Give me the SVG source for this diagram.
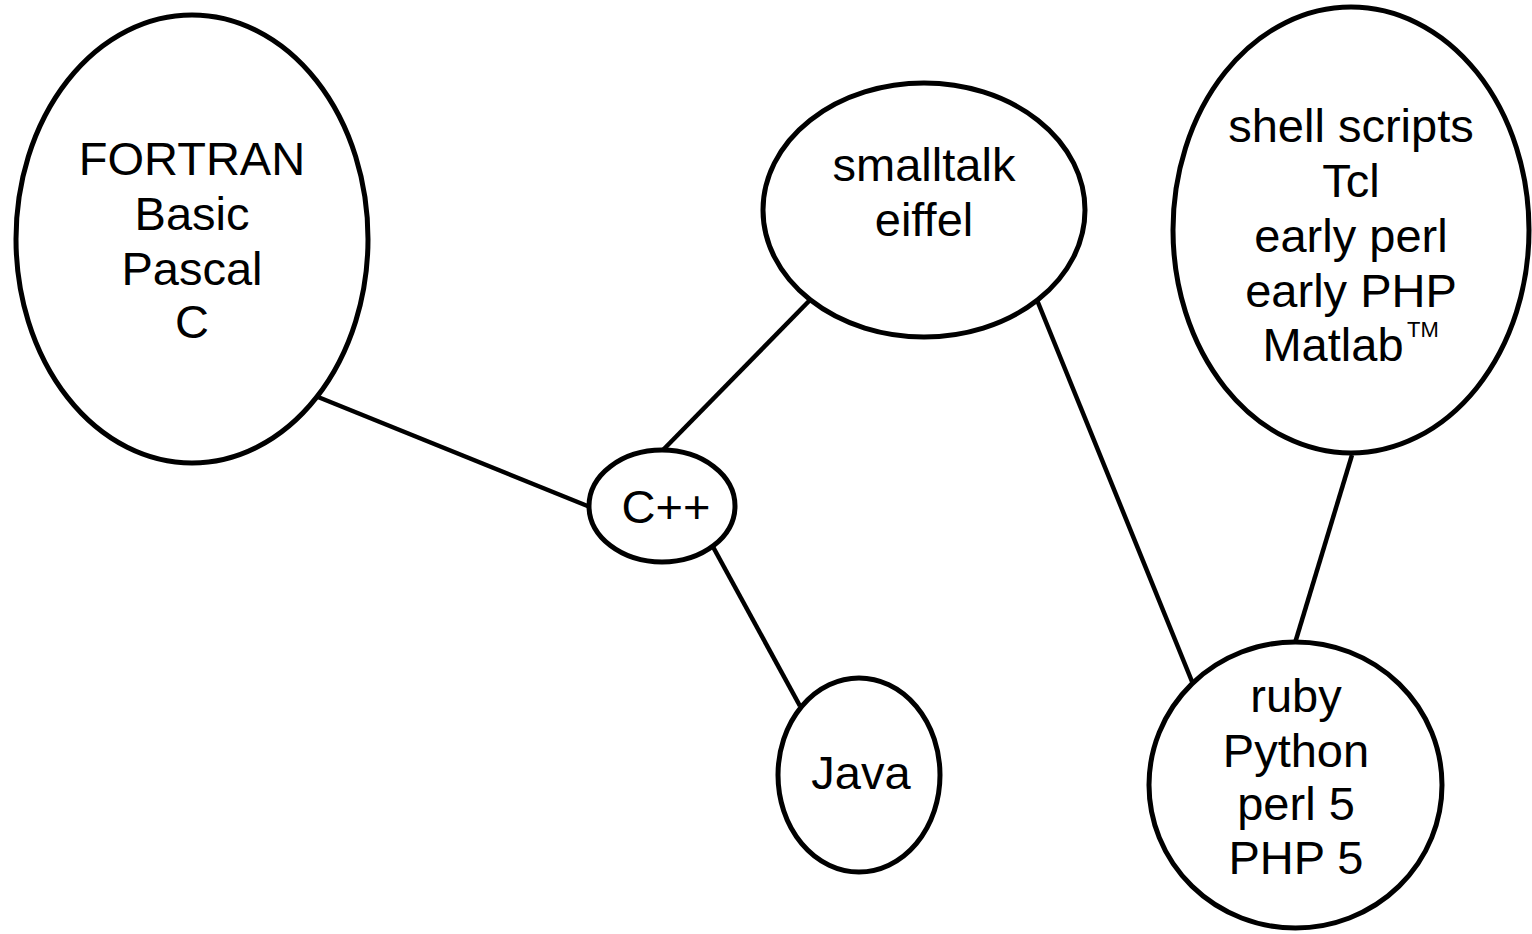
<svg xmlns="http://www.w3.org/2000/svg" width="1532" height="934" viewBox="0 0 1532 934">
<style>
.node{fill:#fff;stroke:#000;stroke-width:5}
.edge{stroke:#000;stroke-width:4.5;fill:none}
.t{font-family:"Liberation Sans",Arial,sans-serif;font-size:47px;fill:#000;text-anchor:middle}
.tm{font-size:22px;text-anchor:start}
</style>
<rect width="1532" height="934" fill="#fff"/>
<g id="connectors">
<line class="edge" x1="318" y1="397" x2="590" y2="507"/>
<line class="edge" x1="810" y1="300" x2="662" y2="451"/>
<line class="edge" x1="712" y1="545" x2="800" y2="706"/>
<line class="edge" x1="1037" y1="300" x2="1193" y2="684"/>
<line class="edge" x1="1352" y1="455" x2="1295" y2="643"/>
</g>
<g id="n-fortran">
<ellipse class="node" cx="192" cy="239" rx="176" ry="224"/>
<text class="t" x="192" y="175">FORTRAN</text>
<text class="t" x="192" y="230">Basic</text>
<text class="t" x="192" y="285">Pascal</text>
<text class="t" x="192" y="338">C</text>
</g>
<g id="n-smalltalk">
<ellipse class="node" cx="924" cy="210" rx="161" ry="127"/>
<text class="t" x="924" y="181">smalltalk</text>
<text class="t" x="924" y="236">eiffel</text>
</g>
<g id="n-shell">
<ellipse class="node" cx="1351" cy="230" rx="178" ry="223"/>
<text class="t" x="1351" y="142">shell scripts</text>
<text class="t" x="1351" y="197">Tcl</text>
<text class="t" x="1351" y="252">early perl</text>
<text class="t" x="1351" y="307">early PHP</text>
<text class="t" x="1333" y="361">Matlab</text>
<text class="t tm" x="1407" y="337">TM</text>
</g>
<g id="n-cpp">
<ellipse class="node" cx="662" cy="506" rx="73" ry="56"/>
<text class="t" x="666" y="523">C++</text>
</g>
<g id="n-java">
<ellipse class="node" cx="859" cy="775" rx="81" ry="97"/>
<text class="t" x="861" y="789">Java</text>
</g>
<g id="n-ruby">
<ellipse class="node" cx="1295.5" cy="785" rx="146.5" ry="143"/>
<text class="t" x="1296" y="712">ruby</text>
<text class="t" x="1296" y="767">Python</text>
<text class="t" x="1296" y="820">perl 5</text>
<text class="t" x="1296" y="874">PHP 5</text>
</g>
</svg>
